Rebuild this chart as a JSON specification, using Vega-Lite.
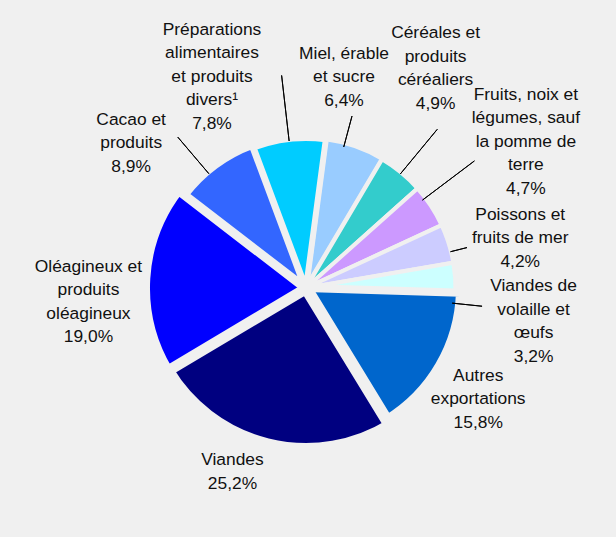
{
  "$schema": "https://vega.github.io/schema/vega-lite/v6.json",
  "width": 616,
  "height": 537,
  "autosize": {"type": "fit", "contains": "padding"},
  "padding": {"left": 0, "right": 4, "top": 39, "bottom": 0},
  "background": "#f0f0f0",
  "config": {"view": {"stroke": null}},
  "data": {
    "values": [
      {"n": 1, "cat": "Miel, érable et sucre", "v": 6.4, "label": "Miel, érable\net sucre\n6,4%"},
      {"n": 2, "cat": "Céréales et produits céréaliers", "v": 4.9, "label": "Céréales et\nproduits\ncéréaliers\n4,9%"},
      {"n": 3, "cat": "Fruits, noix et légumes, sauf la pomme de terre", "v": 4.7, "label": "Fruits, noix et\nlégumes, sauf\nla pomme de\nterre\n4,7%"},
      {"n": 4, "cat": "Poissons et fruits de mer", "v": 4.2, "label": "Poissons et\nfruits de mer\n4,2%"},
      {"n": 5, "cat": "Viandes de volaille et œufs", "v": 3.2, "label": "Viandes de\nvolaille et\nœufs\n3,2%"},
      {"n": 6, "cat": "Autres exportations", "v": 15.8, "label": "Autres\nexportations\n15,8%"},
      {"n": 7, "cat": "Viandes", "v": 25.2, "label": "Viandes\n25,2%"},
      {"n": 8, "cat": "Oléagineux et produits oléagineux", "v": 19.0, "label": "Oléagineux et\nproduits\noléagineux\n19,0%"},
      {"n": 9, "cat": "Cacao et produits", "v": 8.9, "label": "Cacao et\nproduits\n8,9%"},
      {"n": 10, "cat": "Préparations alimentaires et produits divers", "v": 7.8, "label": "Préparations\nalimentaires\net produits\ndivers¹\n7,8%"}
    ]
  },
  "encoding": {
    "theta": {"field": "v", "type": "quantitative", "stack": true, "scale": {"range": [0.1326, 6.4158]}},
    "order": {"field": "n", "type": "quantitative"}
  },
  "layer": [
    {
      "mark": {
        "type": "arc",
        "stroke": "#f0f0f0",
        "strokeJoin": "miter",
        "radius": {"expr": "[0,150.5,149.5,149.5,149.5,149.5,154,161,161,153,150][datum.n]"},
        "strokeWidth": {"expr": "[0,5,4,4,4,4,8,12,10,8,6][datum.n]"}
      },
      "encoding": {
        "color": {
          "field": "cat",
          "type": "nominal",
          "legend": null,
          "scale": {
            "domain": ["Miel, érable et sucre", "Céréales et produits céréaliers", "Fruits, noix et légumes, sauf la pomme de terre", "Poissons et fruits de mer", "Viandes de volaille et œufs", "Autres exportations", "Viandes", "Oléagineux et produits oléagineux", "Cacao et produits", "Préparations alimentaires et produits divers"],
            "range": ["#99CCFF", "#33CCCC", "#CC99FF", "#CCCCFF", "#CCFFFF", "#0066CC", "#000080", "#0000FF", "#3366FF", "#00CCFF"]
          }
        }
      }
    },
    {
      "mark": {
        "type": "arc",
        "filled": false,
        "stroke": "#000000",
        "strokeWidth": 1,
        "theta2": 0,
        "radius": {"expr": "[0,178,206,211,166,177,0,0,0,198,214][datum.n]"},
        "radius2": {"expr": "[0,146,148,146,149,147,0,0,0,150,148][datum.n]"},
        "thetaOffset": {"expr": "-datum.v*PI/100.1 + [0,-0.072,0.003,-0.065,0.056,0.173,0,0,0,-0.068,-0.002][datum.n]"},
        "theta2Offset": {"expr": "datum.v*PI/100.1 + [0,-0.072,0.003,-0.065,0.056,0.173,0,0,0,-0.068,-0.002][datum.n]"}
      }
    },
    {
      "mark": {
        "type": "text",
        "font": "Liberation Sans",
        "fontSize": 17.4,
        "lineHeight": 23.5,
        "lineBreak": "\n",
        "align": "center",
        "baseline": "middle",
        "color": "#111111",
        "radius": {"expr": "[0,214,255,264,220,230,205,198,218,227,231][datum.n]"},
        "thetaOffset": {"expr": "[0,-0.155,-0.155,-0.005,0.073,0.215,0.047,0.138,-0.122,-0.243,-0.307][datum.n]"},
        "dy": {"expr": "-(length(split(datum.label, '\\n')) - 1) * 11.75"}
      },
      "encoding": {
        "text": {"field": "label", "type": "nominal"}
      }
    }
  ]
}
